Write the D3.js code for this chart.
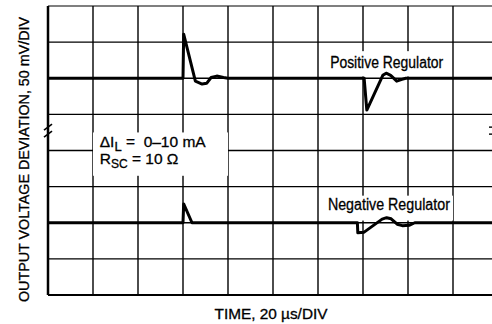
<!DOCTYPE html>
<html>
<head>
<meta charset="utf-8">
<script src="https://cdn.jsdelivr.net/npm/d3@7"></script>
<style>
    html, body { margin: 0; padding: 0; background: #fff; }
    svg { display: block; }
    text { stroke: #000; stroke-width: 0.3px; }
</style>
</head>
<body>
<div id="graphContainer"></div>
<script>
"use strict";

// Time axis, µs (20 µs per division, 10 divisions)
const timeGrid = [0, 20, 40, 60, 80, 100, 120, 140, 160, 180, 200];
// Vertical divisions (50 mV per division, 8 divisions)
const voltGrid = [0, 1, 2, 3, 4, 5, 6, 7, 8];

// Trace baselines, in divisions from the bottom
const positiveBaseline = 6;
const negativeBaseline = 2;

// [time µs, deviation mV]
const positiveTrace = [
    [0, 0], [60, 0], [60.3, 61], [65.5, -4], [68.5, -8], [70.5, -7], [72.5, 1],
    [75, 3], [78, 1], [80, 0], [140.5, 0], [141.7, -44], [148.8, 4], [150.3, 7],
    [152.3, 4], [155, -4], [157.3, -1.5], [159, 0], [200, 0]
];
const negativeTrace = [
    [0, 0], [60, 0], [60.3, 26], [64, 0], [137.5, 0], [137.7, -14], [140.5, -13],
    [148.5, 5], [150.5, 7], [152.5, 5.5], [155.2, -2], [157.5, -4], [160.5, -3.5],
    [163, 0], [200, 0]
];

const traceLabels = ["Positive Regulator", "Negative Regulator"];
const xAxisLabel = "TIME, 20 \u00b5s/DIV";
const yAxisLabel = "OUTPUT VOLTAGE DEVIATION, 50 mV/DIV";

const graphInfo = {
    width: 492,
    height: 324,
    left: 48,
    right: 498,
    top: 6,
    bottom: 295,
    font: "'Liberation Sans Narrow', 'Arial Narrow', 'Liberation Sans', Arial, sans-serif"
};

const svg = d3.select("#graphContainer").append("svg")
    .attr("width", graphInfo.width)
    .attr("height", graphInfo.height)
    .attr("viewBox", [0, 0, graphInfo.width, graphInfo.height]);

const xScale = d3.scaleLinear()
    .domain([timeGrid[0], timeGrid[timeGrid.length - 1]])
    .range([graphInfo.left, graphInfo.right]);

const yScale = d3.scaleLinear()
    .domain([voltGrid[0], voltGrid[voltGrid.length - 1]])
    .range([graphInfo.bottom, graphInfo.top]);

// Grid lines (vertical and horizontal)
const grid = svg.append("g").attr("stroke", "#000");

grid.selectAll(".vline")
    .data(timeGrid)
    .join("line")
    .attr("class", "vline")
    .attr("x1", d => xScale(d)).attr("x2", d => xScale(d))
    .attr("y1", graphInfo.top).attr("y2", graphInfo.bottom)
    .attr("stroke-width", (d, i) => i === 0 ? 2.5 : 1.4);

grid.selectAll(".hline")
    .data(voltGrid)
    .join("line")
    .attr("class", "hline")
    .attr("x1", graphInfo.left).attr("x2", graphInfo.right)
    .attr("y1", d => yScale(d)).attr("y2", d => yScale(d))
    .attr("stroke-width", (d, i) => i === 0 ? 2 : (i === voltGrid.length - 1 ? 1.2 : 1.4));

// Break marks between the two traces
const breakY = yScale(4.55);
[-3.5, 3.5].forEach(off => {
    svg.append("line")
        .attr("x1", graphInfo.left - 4).attr("y1", breakY + off + 3)
        .attr("x2", graphInfo.left + 4).attr("y2", breakY + off - 3)
        .attr("stroke", "#000").attr("stroke-width", 1.6);
    svg.append("line")
        .attr("x1", graphInfo.width - 3).attr("y1", breakY + off)
        .attr("x2", graphInfo.width).attr("y2", breakY + off)
        .attr("stroke", "#000").attr("stroke-width", 1.4);
});

// White panels behind the labels
function Panel(x0, x1, y0, y1) {
    svg.append("rect")
        .attr("x", xScale(x0)).attr("width", xScale(x1) - xScale(x0))
        .attr("y", yScale(y1)).attr("height", yScale(y0) - yScale(y1))
        .attr("fill", "#fff");
}
Panel(124, 179, positiveBaseline + 0.05, positiveBaseline + 0.75);
Panel(123, 180, negativeBaseline + 0.06, negativeBaseline + 0.75);
Panel(20, 80, 3.3, 4.5);

// The two scope traces
function DrawTrace(data, baseline) {
    const line = d3.line()
        .x(d => xScale(d[0]))
        .y(d => yScale(baseline + d[1] / 50));
    svg.append("path")
        .datum(data)
        .attr("fill", "none")
        .attr("stroke", "#000")
        .attr("stroke-width", 3)
        .attr("stroke-linejoin", "round")
        .attr("d", line);
}
DrawTrace(positiveTrace, positiveBaseline);
DrawTrace(negativeTrace, negativeBaseline);

// Trace labels
svg.append("text")
    .attr("x", xScale(150.5)).attr("y", yScale(positiveBaseline) - 10)
    .attr("text-anchor", "middle")
    .attr("font-family", graphInfo.font).attr("font-size", 16)
    .attr("textLength", 113).attr("lengthAdjust", "spacingAndGlyphs")
    .text(traceLabels[0]);

svg.append("text")
    .attr("x", xScale(151.5)).attr("y", yScale(negativeBaseline) - 13)
    .attr("text-anchor", "middle")
    .attr("font-family", graphInfo.font).attr("font-size", 16)
    .attr("textLength", 122).attr("lengthAdjust", "spacingAndGlyphs")
    .text(traceLabels[1]);

// Test conditions
const cond = svg.append("g")
    .attr("font-family", graphInfo.font)
    .attr("font-size", 15.5);

const c1 = cond.append("text").attr("x", xScale(23)).attr("y", 147);
c1.append("tspan").text("\u0394I");
c1.append("tspan").attr("dy", 4).attr("font-size", 13).text("L");
c1.append("tspan").attr("dy", -4).text(" = \u00a00\u201310 mA");

const c2 = cond.append("text").attr("x", xScale(23)).attr("y", 164);
c2.append("tspan").text("R");
c2.append("tspan").attr("dy", 4).attr("font-size", 12).text("SC");
c2.append("tspan").attr("dy", -4).text(" = 10 \u03a9");

// Axis titles
svg.append("text")
    .attr("x", xScale(100) - 2).attr("y", 319)
    .attr("text-anchor", "middle")
    .attr("font-family", graphInfo.font).attr("font-size", 15)
    .attr("textLength", 113).attr("lengthAdjust", "spacingAndGlyphs")
    .text(xAxisLabel);

svg.append("text")
    .attr("transform", `translate(29,${(graphInfo.top + graphInfo.bottom) / 2 + 9}) rotate(-90)`)
    .attr("text-anchor", "middle")
    .attr("font-family", graphInfo.font).attr("font-size", 14)
    .attr("textLength", 285).attr("lengthAdjust", "spacingAndGlyphs")
    .text(yAxisLabel);
</script>
</body>
</html>
